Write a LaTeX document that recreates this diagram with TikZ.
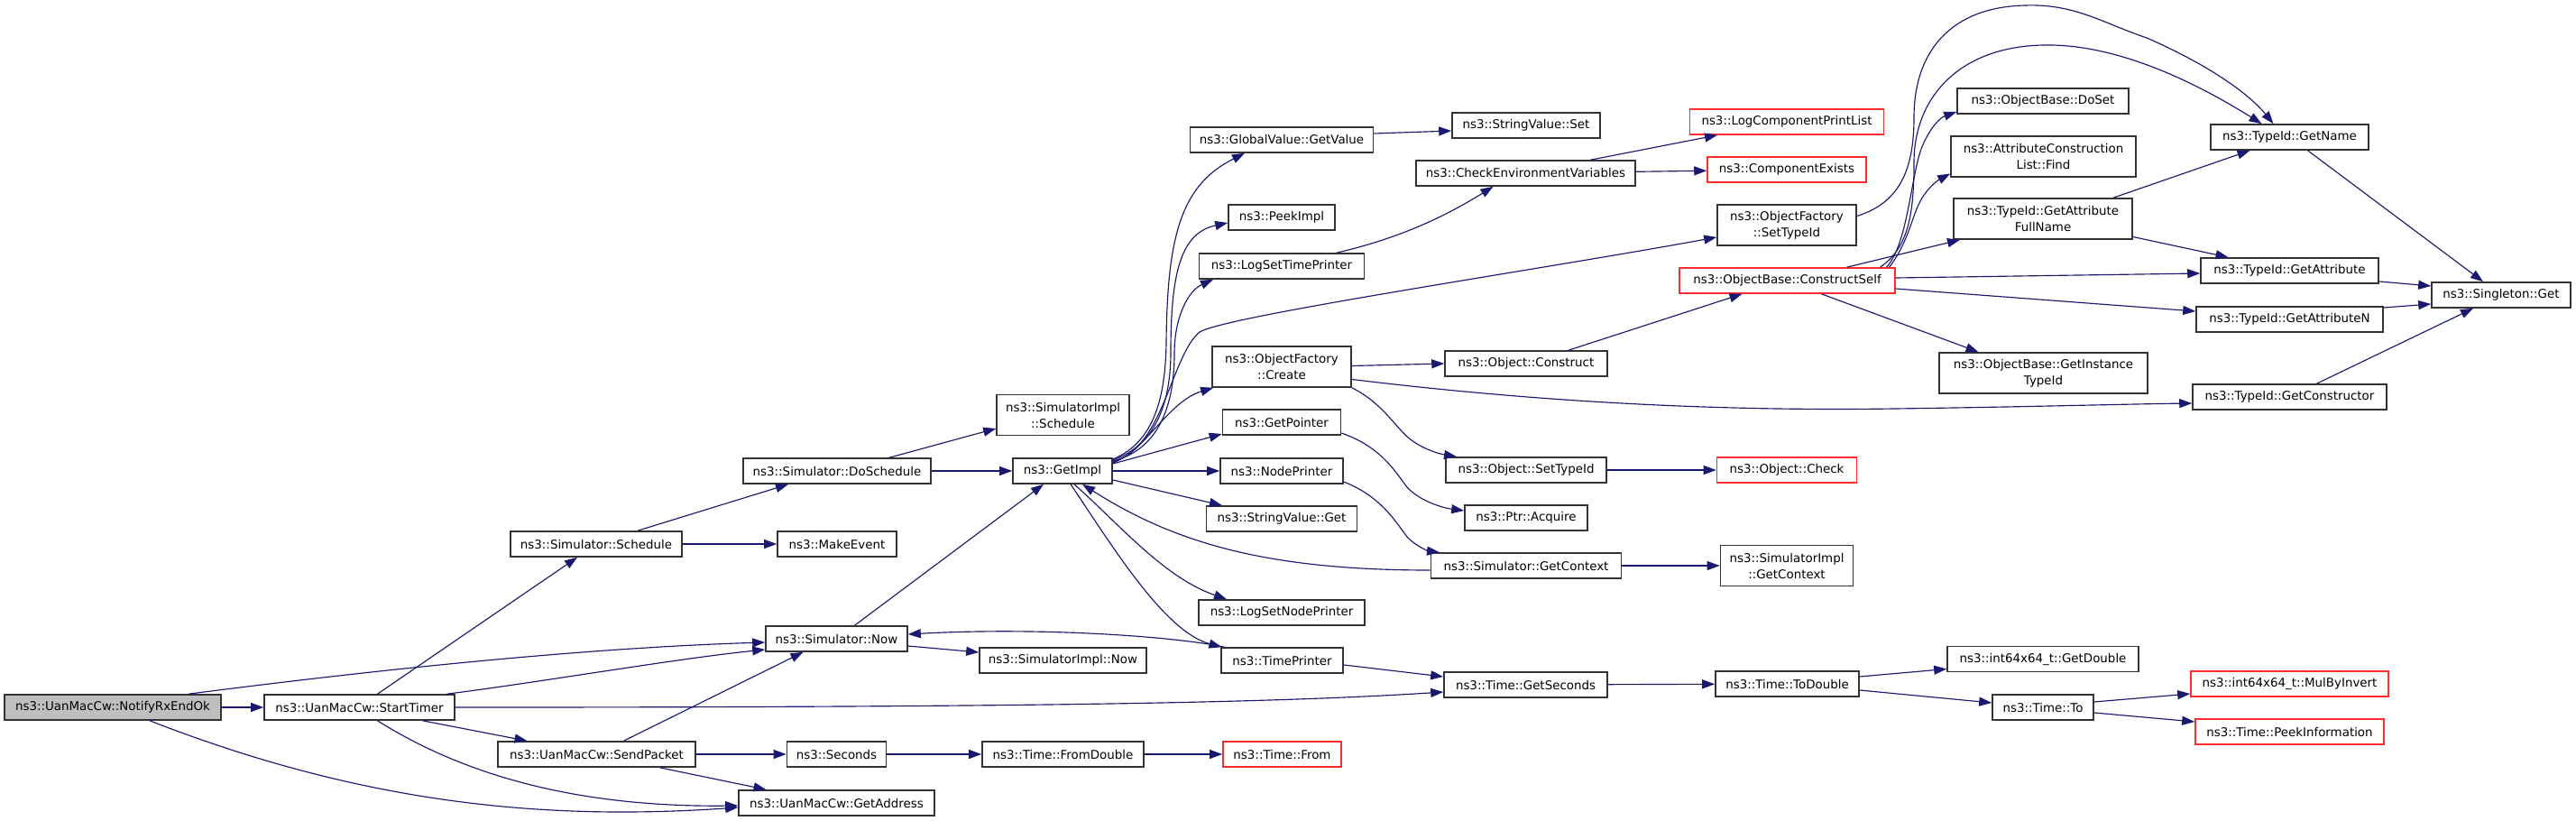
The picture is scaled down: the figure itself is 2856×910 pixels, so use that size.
\documentclass[tikz,border=0pt]{standalone}
\usepackage{fontspec}
\setmainfont{DejaVu Sans}
\usetikzlibrary{arrows.meta}
\definecolor{edgeblue}{HTML}{191970}
\definecolor{boxline}{HTML}{333333}
\definecolor{boxred}{HTML}{FF2A2A}
\definecolor{boxgray}{HTML}{BFBFBF}
\tikzset{
  fn/.style={draw=boxline, line width=1.6pt, fill=white, inner sep=0pt, minimum height=28pt,
    align=center, font=\fontsize{13.4}{18}\selectfont},
  fnred/.style={fn, draw=boxred},
  fntwo/.style={fn, minimum height=45pt},
  call/.style={draw=edgeblue, line width=1.15pt, -{Triangle[length=14pt,width=10pt]}}
}
\begin{document}
\begin{tikzpicture}[x=1pt,y=-1pt]
\useasboundingbox (0,0) rectangle (2856,910);

% functions
\node[fn, fill=boxgray, minimum width=240pt] (notify) at (125,784) {ns3::UanMacCw::NotifyRxEndOk};
\node[fn, minimum width=211pt] (starttimer) at (398.5,784) {ns3::UanMacCw::StartTimer};
\node[fn, minimum width=190pt] (schedule) at (661,603) {ns3::Simulator::Schedule};
\node[fn, minimum width=219pt] (sendpacket) at (661.5,836) {ns3::UanMacCw::SendPacket};
\node[fn, minimum width=208pt] (doschedule) at (928,522) {ns3::Simulator::DoSchedule};
\node[fn, minimum width=132pt] (makeevent) at (928,603) {ns3::MakeEvent};
\node[fn, minimum width=157pt] (now) at (927.5,708) {ns3::Simulator::Now};
\node[fn, minimum width=110pt] (seconds) at (927.5,836) {ns3::Seconds};
\node[fn, minimum width=217pt] (getaddress) at (927.5,890) {ns3::UanMacCw::GetAddress};
\node[fntwo, minimum width=147pt] (simimplsched) at (1178.5,460) {ns3::SimulatorImpl\\::Schedule};
\node[fn, minimum width=110pt] (getimpl) at (1178,522) {ns3::GetImpl};
\node[fn, minimum width=185pt] (simimplnow) at (1178.5,732) {ns3::SimulatorImpl::Now};
\node[fn, minimum width=179pt] (fromdouble) at (1178.5,836) {ns3::Time::FromDouble};
\node[fn, minimum width=203pt] (getvalue) at (1421,155) {ns3::GlobalValue::GetValue};
\node[fn, minimum width=118pt] (peekimpl) at (1421,241) {ns3::PeekImpl};
\node[fn, minimum width=183pt] (logsettime) at (1421,295) {ns3::LogSetTimePrinter};
\node[fntwo, minimum width=154pt] (ofcreate) at (1421,406.5) {ns3::ObjectFactory\\::Create};
\node[fn, minimum width=131pt] (getpointer) at (1421,468) {ns3::GetPointer};
\node[fn, minimum width=136pt] (nodeprinter) at (1421,522) {ns3::NodePrinter};
\node[fn, minimum width=167pt] (svget) at (1421,575) {ns3::StringValue::Get};
\node[fn, minimum width=184pt] (logsetnode) at (1421,679) {ns3::LogSetNodePrinter};
\node[fn, minimum width=135pt] (timeprinter) at (1421.5,732) {ns3::TimePrinter};
\node[fnred, minimum width=131pt] (timefrom) at (1421.5,836) {ns3::Time::From};
\node[fn, minimum width=164pt] (svset) at (1692,139) {ns3::StringValue::Set};
\node[fn, minimum width=243pt] (checkenv) at (1691.5,192) {ns3::CheckEnvironmentVariables};
\node[fn, minimum width=180pt] (objconstruct) at (1692,403) {ns3::Object::Construct};
\node[fn, minimum width=178pt] (objsettypeid) at (1692,521) {ns3::Object::SetTypeId};
\node[fn, minimum width=136pt] (ptracquire) at (1692,574) {ns3::Ptr::Acquire};
\node[fn, minimum width=211pt] (simgetcontext) at (1692,627) {ns3::Simulator::GetContext};
\node[fn, minimum width=181pt] (getseconds) at (1691.5,759) {ns3::Time::GetSeconds};
\node[fnred, minimum width=215pt] (logcomp) at (1981,135) {ns3::LogComponentPrintList};
\node[fnred, minimum width=176pt] (compexists) at (1981,188) {ns3::ComponentExists};
\node[fntwo, minimum width=154pt] (ofsettypeid) at (1981,249.5) {ns3::ObjectFactory\\::SetTypeId};
\node[fnred, minimum width=239pt] (constructself) at (1981.5,311) {ns3::ObjectBase::ConstructSelf};
\node[fnred, minimum width=155pt] (objcheck) at (1981,521) {ns3::Object::Check};
\node[fntwo, minimum width=147pt] (simimplgetctx) at (1981,627) {ns3::SimulatorImpl\\::GetContext};
\node[fn, minimum width=159pt] (todouble) at (1981.5,758) {ns3::Time::ToDouble};
\node[fn, minimum width=190pt] (doset) at (2265,112) {ns3::ObjectBase::DoSet};
\node[fntwo, minimum width=205pt] (attrfind) at (2265.5,173.5) {ns3::AttributeConstruction\\List::Find};
\node[fntwo, minimum width=198pt] (getattrfull) at (2265,242.5) {ns3::TypeId::GetAttribute\\FullName};
\node[fntwo, minimum width=231pt] (getinstance) at (2265.5,413.5) {ns3::ObjectBase::GetInstance\\TypeId};
\node[fn, minimum width=212pt] (getdouble) at (2265,730.5) {ns3::int64x64\_t::GetDouble};
\node[fn, minimum width=112pt] (timeto) at (2265,784) {ns3::Time::To};
\node[fn, minimum width=175pt] (getname) at (2538.5,152) {ns3::TypeId::GetName};
\node[fn, minimum width=197pt] (getattr) at (2538.5,300) {ns3::TypeId::GetAttribute};
\node[fn, minimum width=207pt] (getattrn) at (2538.5,354) {ns3::TypeId::GetAttributeN};
\node[fn, minimum width=215pt] (getctor) at (2538.5,440) {ns3::TypeId::GetConstructor};
\node[fnred, minimum width=219pt] (mulbyinvert) at (2538.5,758) {ns3::int64x64\_t::MulByInvert};
\node[fnred, minimum width=209pt] (peekinfo) at (2538.5,811) {ns3::Time::PeekInformation};
\node[fn, minimum width=154pt] (singleton) at (2773,327) {ns3::Singleton::Get};

% calls
\draw[call] (notify) -- (starttimer);
\draw[call] ([xshift=84pt]notify.north) .. controls (420,742) and (650,718) .. ([yshift=-4pt]now.west);
\draw[call] ([xshift=41pt]notify.south) .. controls (400,890) and (600,910) .. ([yshift=-5pt]getaddress.west);
\draw[call] ([xshift=20pt]starttimer.north) -- ([xshift=-21pt]schedule.south);
\draw[call] ([xshift=97pt]starttimer.north) .. controls (600,756) and (750,730) .. ([yshift=-12pt]now.west);
\draw[call] (starttimer.east) .. controls (1100,784) and (1400,780) .. ([yshift=-8pt]getseconds.west);
\draw[call] ([xshift=70pt]starttimer.south) -- ([xshift=-77pt]sendpacket.north);
\draw[call] ([xshift=20pt]starttimer.south) .. controls (500,850) and (620,895) .. ([yshift=-3pt]getaddress.west);
\draw[call] ([xshift=46pt]schedule.north) -- ([xshift=-54pt]doschedule.south);
\draw[call] (schedule) -- (makeevent);
\draw[call] ([xshift=58pt]doschedule.north) -- ([yshift=-15pt]simimplsched.west);
\draw[call] (doschedule) -- (getimpl);
\draw[call] ([xshift=20pt]now.north) -- ([xshift=-21pt]getimpl.south);
\draw[call] ([yshift=-8pt]now.east) -- ([yshift=9pt]simimplnow.west);
\draw[call] ([xshift=30pt]sendpacket.north) -- ([xshift=-37pt]now.south);
\draw[call] (sendpacket) -- (seconds);
\draw[call] ([xshift=70pt]sendpacket.south) -- ([xshift=-78pt]getaddress.north);
\draw[call] (seconds) -- (fromdouble);
\draw[call] (fromdouble) -- (timefrom);

\draw[call] ([yshift=13pt]getimpl.east) .. controls (1280,490) and (1292,440) .. (1293,380)
  .. controls (1294,260) and (1310,205) .. ([xshift=-41pt]getvalue.south);
\draw[call] ([yshift=12pt]getimpl.east) .. controls (1285,492) and (1298,440) .. (1298,390)
  .. controls (1298,300) and (1310,258) .. ([yshift=-6pt]peekimpl.west);
\draw[call] ([yshift=11pt]getimpl.east) .. controls (1290,497) and (1302,440) .. (1302,392)
  .. controls (1302,350) and (1318,322) .. ([xshift=-76pt]logsettime.south);
\draw[call] ([yshift=10pt]getimpl.east) .. controls (1290,497) and (1298,395) .. (1330,368)
  .. controls (1360,350) and (1700,300) .. ([yshift=-13.5pt]ofsettypeid.west);
\draw[call] ([yshift=9pt]getimpl.east) .. controls (1270,500) and (1295,445) .. ([xshift=2pt]ofcreate.south west);
\draw[call] ([yshift=8pt]getimpl.east) -- ([yshift=-13pt]getpointer.west);
\draw[call] (getimpl) -- (nodeprinter);
\draw[call] ([yshift=-10pt]getimpl.east) -- ([xshift=-66pt]svget.north);
\draw[call] ([xshift=13pt]getimpl.south) .. controls (1240,580) and (1290,640) .. ([xshift=-61pt]logsetnode.north);
\draw[call] ([xshift=9pt]getimpl.south) .. controls (1230,600) and (1290,700) .. ([xshift=-67pt]timeprinter.north);
\draw[call] ([yshift=-5pt]simgetcontext.west) .. controls (1400,632) and (1300,600) .. ([xshift=22pt]getimpl.south);
\draw[call] ([xshift=-64pt]timeprinter.north) .. controls (1300,705) and (1150,695) .. ([yshift=5pt]now.east);

\draw[call] ([xshift=61pt]logsettime.north) .. controls (1560,262) and (1610,235) .. ([xshift=-36pt]checkenv.south);
\draw[call] ([yshift=7pt]getvalue.east) -- ([yshift=-6pt]svset.west);
\draw[call] ([xshift=72pt]checkenv.north) -- ([xshift=-77pt]logcomp.south);
\draw[call] (checkenv) -- (compexists);
\draw[call] ([yshift=1pt]ofcreate.east) -- (objconstruct.west);
\draw[call] ([yshift=-14pt]ofcreate.east) .. controls (1700,445) and (1900,456) .. (2100,453)
  .. controls (2250,451) and (2350,448) .. ([yshift=-7pt]getctor.west);
\draw[call] (ofcreate.south east) .. controls (1530,445) and (1545,470) .. (1560,484)
  .. controls (1575,497) and (1595,503) .. ([xshift=-77pt]objsettypeid.north);
\draw[call] ([xshift=47pt]objconstruct.north) -- ([xshift=-50pt]constructself.south);
\draw[call] (objsettypeid) -- (objcheck);
\draw[call] ([yshift=-12pt]getpointer.east) .. controls (1530,495) and (1545,520) .. (1560,540)
  .. controls (1575,556) and (1600,563) .. ([yshift=8pt]ptracquire.west);
\draw[call] ([yshift=-12pt]nodeprinter.east) .. controls (1530,550) and (1545,575) .. (1560,595)
  .. controls (1570,606) and (1585,611) .. ([xshift=-96pt]simgetcontext.north);
\draw[call] (simgetcontext) -- (simimplgetctx);
\draw[call] ([yshift=-5pt]timeprinter.east) -- ([yshift=9pt]getseconds.west);
\draw[call] (getseconds) -- (todouble);

\draw[call] ([yshift=10pt]ofsettypeid.east) .. controls (2105,225) and (2122,190) .. (2122,130)
  .. controls (2122,60) and (2160,8) .. (2245,6) .. controls (2300,4) and (2330,25) .. (2380,42)
  .. controls (2440,68) and (2490,100) .. ([xshift=-18pt]getname.north);
\draw[call] ([xshift=103pt]constructself.north) .. controls (2115,275) and (2122,240) .. (2122,180)
  .. controls (2122,110) and (2170,52) .. (2265,50) .. controls (2350,48) and (2440,95) .. ([xshift=-31pt]getname.north);
\draw[call] ([xshift=110pt]constructself.north) .. controls (2115,270) and (2118,200) .. (2130,165)
  .. controls (2140,140) and (2152,130) .. ([yshift=-12pt]doset.west);
\draw[call] ([xshift=113pt]constructself.north) .. controls (2115,270) and (2120,240) .. (2128,225)
  .. controls (2135,210) and (2148,200) .. ([yshift=-19pt]attrfind.west);
\draw[call] ([xshift=66pt]constructself.north) -- ([xshift=-92pt]getattrfull.south);
\draw[call] ([yshift=3pt]constructself.east) -- ([yshift=-3pt]getattr.west);
\draw[call] ([yshift=-9pt]constructself.east) -- ([yshift=9pt]getattrn.west);
\draw[call] ([xshift=38pt]constructself.south) -- ([xshift=-72pt]getinstance.north);
\draw[call] ([xshift=78pt]getattrfull.north) -- ([xshift=-44pt]getname.south);
\draw[call] ([yshift=-20pt]getattrfull.east) -- ([xshift=-68pt]getattr.north);
\draw[call] ([xshift=20pt]getname.south) -- ([xshift=-20pt]singleton.north);
\draw[call] ([yshift=-12pt]getattr.east) -- ([yshift=10pt]singleton.west);
\draw[call] ([yshift=13pt]getattrn.east) -- ([yshift=-10pt]singleton.west);
\draw[call] ([xshift=30pt]getctor.north) -- ([xshift=-31pt]singleton.south);

\draw[call] ([yshift=8pt]todouble.east) -- ([yshift=-11pt]getdouble.west);
\draw[call] ([yshift=-7pt]todouble.east) -- ([yshift=5pt]timeto.west);
\draw[call] ([yshift=6pt]timeto.east) -- ([yshift=-11pt]mulbyinvert.west);
\draw[call] ([yshift=-6pt]timeto.east) -- ([yshift=11pt]peekinfo.west);
\end{tikzpicture}
\end{document}
